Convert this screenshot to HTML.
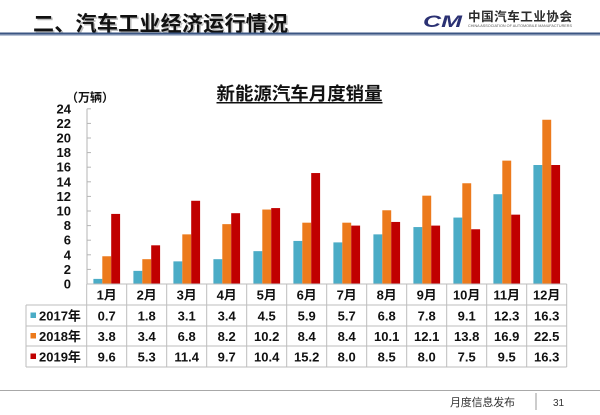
<!DOCTYPE html>
<html><head><meta charset="utf-8"><style>
html,body{margin:0;padding:0;background:#fff;}
svg{display:block;}
text{font-family:"Liberation Sans","Noto Sans CJK SC",sans-serif;}
</style></head><body>
<svg width="600" height="415" viewBox="0 0 600 415" xmlns="http://www.w3.org/2000/svg">
<rect width="600" height="415" fill="#fff"/>
<!-- Header -->
<text x="34.5" y="32.5" font-size="21" font-weight="bold" fill="#bdbdbd" textLength="255">二、汽车工业经济运行情况</text>
<text x="33" y="31" font-size="21" font-weight="bold" fill="#111" textLength="255">二、汽车工业经济运行情况</text>
<rect x="0" y="32.5" width="600" height="2" fill="#3b5683"/>
<rect x="0" y="34.5" width="600" height="1.5" fill="#b8c3d6"/>
<!-- Logo -->
<text x="423" y="27" font-size="17" font-weight="bold" font-style="italic" fill="#2b3173" textLength="39" lengthAdjust="spacingAndGlyphs">CM</text>
<text x="468" y="21" font-size="12.5" font-weight="bold" fill="#2b2b2b" textLength="104">中国汽车工业协会</text>
<text x="468" y="27" font-size="3.3" fill="#555" textLength="104" lengthAdjust="spacingAndGlyphs">CHINA ASSOCIATION OF AUTOMOBILE MANUFACTURERS</text>

<!-- Chart title -->
<text x="216.5" y="100" font-size="18.4" font-weight="bold" fill="#111" textLength="166">新能源汽车月度销量</text>
<rect x="216.5" y="102" width="166" height="1.5" fill="#111"/>
<text x="66" y="101.5" font-size="12" font-weight="bold" fill="#111">（万辆）</text>

<!-- Y axis labels -->
<g font-size="13" font-weight="bold" fill="#111" text-anchor="end">
<text x="71" y="288.5">0</text>
<text x="71" y="273.9">2</text>
<text x="71" y="259.3">4</text>
<text x="71" y="244.7">6</text>
<text x="71" y="230.1">8</text>
<text x="71" y="215.5">10</text>
<text x="71" y="200.9">12</text>
<text x="71" y="186.3">14</text>
<text x="71" y="171.7">16</text>
<text x="71" y="157.1">18</text>
<text x="71" y="142.5">20</text>
<text x="71" y="127.9">22</text>
<text x="71" y="113.3">24</text>
</g>
<!-- Y axis -->
<g stroke="#b5b5b5" stroke-width="1">
<line x1="87" y1="108.8" x2="87" y2="284"/>
<line x1="87" y1="108.8" x2="91" y2="108.8"/>
<line x1="87" y1="123.4" x2="91" y2="123.4"/>
<line x1="87" y1="138" x2="91" y2="138"/>
<line x1="87" y1="152.6" x2="91" y2="152.6"/>
<line x1="87" y1="167.2" x2="91" y2="167.2"/>
<line x1="87" y1="181.8" x2="91" y2="181.8"/>
<line x1="87" y1="196.4" x2="91" y2="196.4"/>
<line x1="87" y1="211" x2="91" y2="211"/>
<line x1="87" y1="225.6" x2="91" y2="225.6"/>
<line x1="87" y1="240.2" x2="91" y2="240.2"/>
<line x1="87" y1="254.8" x2="91" y2="254.8"/>
<line x1="87" y1="269.4" x2="91" y2="269.4"/>
</g>

<!-- Bars 2017 -->
<g fill="#4bacc6">
<rect x="93.4" y="278.89" width="8.9" height="5.11"/>
<rect x="133.4" y="270.86" width="8.9" height="13.14"/>
<rect x="173.4" y="261.37" width="8.9" height="22.63"/>
<rect x="213.4" y="259.18" width="8.9" height="24.82"/>
<rect x="253.4" y="251.15" width="8.9" height="32.85"/>
<rect x="293.4" y="240.93" width="8.9" height="43.07"/>
<rect x="333.4" y="242.39" width="8.9" height="41.61"/>
<rect x="373.4" y="234.36" width="8.9" height="49.64"/>
<rect x="413.4" y="227.06" width="8.9" height="56.94"/>
<rect x="453.4" y="217.57" width="8.9" height="66.43"/>
<rect x="493.4" y="194.21" width="8.9" height="89.79"/>
<rect x="533.4" y="165.01" width="8.9" height="118.99"/>
</g>
<!-- Bars 2018 -->
<g fill="#ec7a1c">
<rect x="102.3" y="256.26" width="8.9" height="27.74"/>
<rect x="142.3" y="259.18" width="8.9" height="24.82"/>
<rect x="182.3" y="234.36" width="8.9" height="49.64"/>
<rect x="222.3" y="224.14" width="8.9" height="59.86"/>
<rect x="262.3" y="209.54" width="8.9" height="74.46"/>
<rect x="302.3" y="222.68" width="8.9" height="61.32"/>
<rect x="342.3" y="222.68" width="8.9" height="61.32"/>
<rect x="382.3" y="210.27" width="8.9" height="73.73"/>
<rect x="422.3" y="195.67" width="8.9" height="88.33"/>
<rect x="462.3" y="183.26" width="8.9" height="100.74"/>
<rect x="502.3" y="160.63" width="8.9" height="123.37"/>
<rect x="542.3" y="119.75" width="8.9" height="164.25"/>
</g>
<!-- Bars 2019 -->
<g fill="#c00000">
<rect x="111.2" y="213.92" width="8.9" height="70.08"/>
<rect x="151.2" y="245.31" width="8.9" height="38.69"/>
<rect x="191.2" y="200.78" width="8.9" height="83.22"/>
<rect x="231.2" y="213.19" width="8.9" height="70.81"/>
<rect x="271.2" y="208.08" width="8.9" height="75.92"/>
<rect x="311.2" y="173.04" width="8.9" height="110.96"/>
<rect x="351.2" y="225.6" width="8.9" height="58.4"/>
<rect x="391.2" y="221.95" width="8.9" height="62.05"/>
<rect x="431.2" y="225.6" width="8.9" height="58.4"/>
<rect x="471.2" y="229.25" width="8.9" height="54.75"/>
<rect x="511.2" y="214.65" width="8.9" height="69.35"/>
<rect x="551.2" y="165.01" width="8.9" height="118.99"/>
</g>

<!-- Table grid -->
<g stroke="#bdbdbd" stroke-width="1" fill="none">
<line x1="86.7" y1="284" x2="566.7" y2="284"/>
<line x1="26" y1="305" x2="566.7" y2="305"/>
<line x1="26" y1="326" x2="566.7" y2="326"/>
<line x1="26" y1="346" x2="566.7" y2="346"/>
<line x1="26" y1="367" x2="566.7" y2="367"/>
<line x1="26" y1="305" x2="26" y2="367"/>
<line x1="86.7" y1="284" x2="86.7" y2="367"/>
<line x1="126.7" y1="284" x2="126.7" y2="367"/>
<line x1="166.7" y1="284" x2="166.7" y2="367"/>
<line x1="206.7" y1="284" x2="206.7" y2="367"/>
<line x1="246.7" y1="284" x2="246.7" y2="367"/>
<line x1="286.7" y1="284" x2="286.7" y2="367"/>
<line x1="326.7" y1="284" x2="326.7" y2="367"/>
<line x1="366.7" y1="284" x2="366.7" y2="367"/>
<line x1="406.7" y1="284" x2="406.7" y2="367"/>
<line x1="446.7" y1="284" x2="446.7" y2="367"/>
<line x1="486.7" y1="284" x2="486.7" y2="367"/>
<line x1="526.7" y1="284" x2="526.7" y2="367"/>
<line x1="566.7" y1="284" x2="566.7" y2="367"/>
</g>

<!-- Legend -->
<rect x="30.5" y="312.5" width="5.5" height="5.5" fill="#4bacc6"/>
<rect x="30.5" y="333" width="5.5" height="5.5" fill="#ec7a1c"/>
<rect x="30.5" y="353.5" width="5.5" height="5.5" fill="#c00000"/>
<g font-size="13" font-weight="bold" fill="#111">
<text x="39" y="320.5">2017年</text>
<text x="39" y="341">2018年</text>
<text x="39" y="361.5">2019年</text>
</g>

<!-- Table text -->
<g font-size="13" font-weight="bold" fill="#111" text-anchor="middle">
<text x="106.7" y="299.5">1月</text><text x="146.7" y="299.5">2月</text><text x="186.7" y="299.5">3月</text><text x="226.7" y="299.5">4月</text><text x="266.7" y="299.5">5月</text><text x="306.7" y="299.5">6月</text><text x="346.7" y="299.5">7月</text><text x="386.7" y="299.5">8月</text><text x="426.7" y="299.5">9月</text><text x="466.7" y="299.5">10月</text><text x="506.7" y="299.5">11月</text><text x="546.7" y="299.5">12月</text>

<text x="106.7" y="320.5">0.7</text><text x="146.7" y="320.5">1.8</text><text x="186.7" y="320.5">3.1</text><text x="226.7" y="320.5">3.4</text><text x="266.7" y="320.5">4.5</text><text x="306.7" y="320.5">5.9</text><text x="346.7" y="320.5">5.7</text><text x="386.7" y="320.5">6.8</text><text x="426.7" y="320.5">7.8</text><text x="466.7" y="320.5">9.1</text><text x="506.7" y="320.5">12.3</text><text x="546.7" y="320.5">16.3</text>

<text x="106.7" y="341">3.8</text><text x="146.7" y="341">3.4</text><text x="186.7" y="341">6.8</text><text x="226.7" y="341">8.2</text><text x="266.7" y="341">10.2</text><text x="306.7" y="341">8.4</text><text x="346.7" y="341">8.4</text><text x="386.7" y="341">10.1</text><text x="426.7" y="341">12.1</text><text x="466.7" y="341">13.8</text><text x="506.7" y="341">16.9</text><text x="546.7" y="341">22.5</text>

<text x="106.7" y="361.5">9.6</text><text x="146.7" y="361.5">5.3</text><text x="186.7" y="361.5">11.4</text><text x="226.7" y="361.5">9.7</text><text x="266.7" y="361.5">10.4</text><text x="306.7" y="361.5">15.2</text><text x="346.7" y="361.5">8.0</text><text x="386.7" y="361.5">8.5</text><text x="426.7" y="361.5">8.0</text><text x="466.7" y="361.5">7.5</text><text x="506.7" y="361.5">9.5</text><text x="546.7" y="361.5">16.3</text>
</g>

<!-- Footer -->
<rect x="0" y="390" width="600" height="1" fill="#a8a8a8"/>
<text x="450" y="406" font-size="11" fill="#333" textLength="65">月度信息发布</text>
<rect x="535.5" y="393" width="1" height="17" fill="#999"/>
<text x="553" y="406" font-size="10" fill="#333">31</text>
</svg>
</body></html>
